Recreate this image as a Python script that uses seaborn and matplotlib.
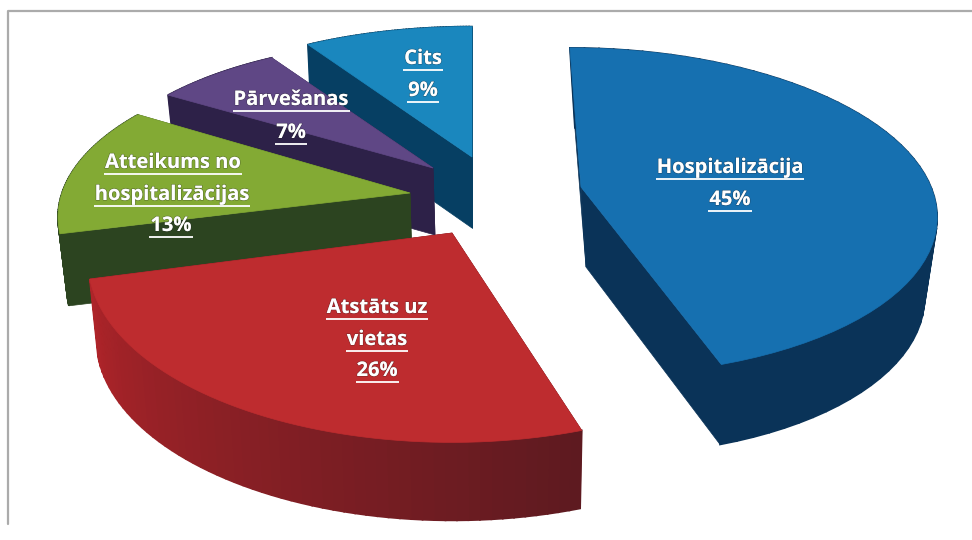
import numpy as np
import matplotlib
matplotlib.use("Agg")
import matplotlib.pyplot as plt
import matplotlib.patheffects as pe
import seaborn as sns

# --- data ---
labels = ["Hospitalizācija", "Atstāts uz\nvietas", "Atteikums no\nhospitalizācijas", "Pārvešanas", "Cits"]
values = [45, 26, 13, 7, 9]

# --- style / layout (pixels of the 972x540 canvas) ---
top_colors = ["#1670B0", "#BE2C2F", "#83AA34", "#5F4785", "#1A87BE"]
side_start = ["#0A3358", "#5E1A20", "#2C4420", "#2D2148", "#063F63"]
side_end = ["#0A3358", "#AE2429", "#2C4420", "#2D2148", "#063F63"]
cut_colors = ["#0A3358", "#5E1A20", "#2C4420", "#2D2148", "#063F63"]
apex_xy = [(581, 187), (452, 233), (410, 193), (433, 168), (472, 157)]
radius_x = [350, 360, 348, 339, 345]
radius_y = [160, 178, 158, 147, 150]
shear = [0.08, 0, 0, 0, 0]
depth = [80, 78, 72, 67, 71]
depth_dx = [5, 1, 2, 2, 0]
floor_scale = [0.95, 0.98, 0.98, 0.98, 0.98]
persp = 0.15
draw_order = [4, 3, 2, 1, 0]
text_xy = [[(730, 168), (730, 200)],
           [(377, 308), (377, 340), (377, 371)],
           [(173, 163), (172, 195), (171, 226)],
           [(291, 100), (291, 133)],
           [(423, 59), (423, 91)]]

sns.set_theme(style="white")
plt.rcParams["font.family"] = ["Open Sans", "DejaVu Sans"]

fig = plt.figure(figsize=(9.72, 5.4), dpi=100, facecolor="white")
ax = fig.add_axes([0, 0, 1, 1])
ax.set_xlim(0, 972)
ax.set_ylim(540, 0)
ax.axis("off")

# frame of the scanned chart
ax.plot([8, 8, 972], [524, 11, 11], color="#ABABAB", lw=1.6, zorder=0)

edges = np.concatenate([[0], np.cumsum(values)]) / np.sum(values) * 2 * np.pi


def rim(i, theta, scale=1.0):
    """Project an angle (clockwise from 12 o'clock) to the perspective ellipse."""
    ux, uy = np.sin(theta), np.cos(theta)
    s = 1.0 / (1.0 + persp * uy)
    dy = -radius_y[i] * uy * s
    return (apex_xy[i][0] + scale * radius_x[i] * ux * s + shear[i] * dy,
            apex_xy[i][1] + dy)


for i in draw_order:
    th = np.linspace(edges[i], edges[i + 1], 60)
    x, y = rim(i, th)
    xb, yb = rim(i, th, floor_scale[i])
    xb = xb + depth_dx[i]
    yb = yb + depth[i]
    ax0, ay0 = apex_xy[i]
    bx0, by0 = ax0 + depth_dx[i], ay0 + depth[i]
    level = draw_order.index(i) * 3

    # two cut faces
    for k in (0, -1):
        ax.fill([ax0, x[k], xb[k], bx0], [ay0, y[k], yb[k], by0],
                color=cut_colors[i], lw=0.5, zorder=1 + level)
    # outer wall, shaded along the arc
    pal = sns.blend_palette([side_start[i], side_end[i]], len(th) - 1)
    for k in range(len(th) - 1):
        ax.fill([x[k], x[k + 1], xb[k + 1], xb[k]], [y[k], y[k + 1], yb[k + 1], yb[k]],
                facecolor=pal[k], edgecolor=pal[k], lw=1.2, zorder=2 + level)
    # top face
    ax.fill(np.r_[ax0, x], np.r_[ay0, y], color=top_colors[i], lw=0.5, zorder=3 + level)

# labels: white, bold, underlined
shadow = [pe.withStroke(linewidth=1.0, foreground="#20202055")]
texts = []
for i, (label, val) in enumerate(zip(labels, values)):
    lines = label.split("\n") + [f"{val}%"]
    for line, (tx, ty) in zip(lines, text_xy[i]):
        t = ax.text(tx, ty, line, color="white", fontsize=14.5, fontweight="bold",
                    ha="center", va="center", zorder=50, path_effects=shadow)
        texts.append((t, ty))

fig.canvas.draw()
renderer = fig.canvas.get_renderer()
for t, ty in texts:
    bb = t.get_window_extent(renderer)
    ax.plot([bb.x0 - 1, bb.x1 + 1], [ty + 10.5, ty + 10.5], color="white", lw=1.3,
            solid_capstyle="butt", zorder=50)

fig.savefig("out.png", dpi=100, facecolor="white")
